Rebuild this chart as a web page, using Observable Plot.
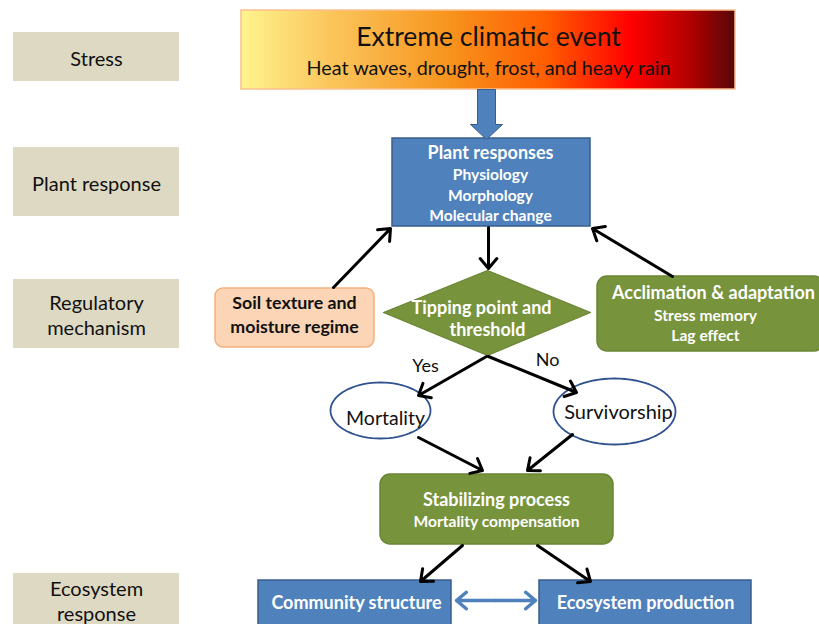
<!DOCTYPE html>
<html><head><meta charset="utf-8">
<script src="https://cdn.jsdelivr.net/npm/d3@7"></script>
<script src="https://cdn.jsdelivr.net/npm/@observablehq/plot@0.6"></script>
<style>body{margin:0;background:#fff}</style>
</head><body><div id="chart"></div>
<script>
// Stage labels (left column)
const stageLabels = ["Stress", "Plant response", "Regulatory\nmechanism", "Ecosystem\nresponse"];
const stageTop = [32, 147, 279, 573];
const stageBottom = [81, 216, 348, 632];
const stageTextY = [57, 182, 313.5, 599.5];

// Boxes
const boxNames = ["event", "plant", "soil", "acclim", "stab", "community", "production"];
const boxX1 = [241, 392, 215, 597, 380, 258, 539];
const boxX2 = [735, 590, 374, 824, 613, 451, 751];
const boxY1 = [10, 138, 288, 276, 474, 580, 580];
const boxY2 = [89, 226, 347, 351, 544, 632, 632];

// Texts
const textLabels = ["Extreme climatic event", "Heat waves, drought, frost, and heavy rain",
  "Plant responses", "Physiology", "Morphology", "Molecular change",
  "Tipping point and", "threshold", "Soil texture and", "moisture regime",
  "Acclimation & adaptation", "Stress memory", "Lag effect",
  "Yes", "No", "Mortality", "Survivorship",
  "Stabilizing process", "Mortality compensation",
  "Community structure", "Ecosystem production"];
const textX = [488, 488, 490, 490, 490, 490, 481, 487, 294, 294, 713, 705, 705, 425, 547, 385, 618, 496, 496, 356, 645];
const textY = [37, 68, 153, 174, 195, 215, 308, 330, 303, 327, 293, 315, 335, 366, 360, 418, 412, 500, 521, 603, 603];

// Arrows
const arrowX1 = [488, 333, 672, 486, 488, 418, 572, 462, 537];
const arrowY1 = [227, 287, 276, 356, 356, 437, 434, 545, 545];
const arrowX2 = [488, 390, 592, 418, 576, 482, 527, 420, 590];
const arrowY2 = [268, 228, 228, 395, 392, 470, 470, 581, 581];

// Ellipses (Mortality, Survivorship)
const ellCx = [380, 614], ellCy = [410, 411], ellRx = [50, 61], ellRy = [28, 33];

// Diamond and block arrow outlines
const diamondX = [383, 487, 590, 487, 383];
const diamondY = [312, 270, 312, 355, 312];
const blockX = [477, 495, 495, 502, 486, 470, 477, 477];
const blockY = [89, 89, 124, 124, 139, 124, 124, 89];

const blue = "#4f81bd", blueDark = "#385d8a", green = "#77933c", greenDark = "#6b8535";
const boxFill = ["url(#evtgrad)", blue, "#fbd5b5", green, green, blue, blue];
const boxStroke = ["#f9c08f", blueDark, "#f3b07e", greenDark, greenDark, blueDark, blueDark];
const boxR = [0, 0, 8, 10, 10, 0, 0];

const boxes = boxNames.map((n, i) => ({n, x1: boxX1[i], x2: boxX2[i], y1: boxY1[i], y2: boxY2[i], fill: boxFill[i], stroke: boxStroke[i], r: boxR[i]}));
const stages = stageLabels.map((t, i) => ({t, y1: stageTop[i], y2: stageBottom[i], y: stageTextY[i]}));
const texts = textLabels.map((t, i) => ({t, x: textX[i], y: textY[i]}));
const arrows = arrowX1.map((x, i) => ({x1: x, y1: arrowY1[i], x2: arrowX2[i], y2: arrowY2[i]}));
const ellipsePts = ellCx.flatMap((cx, k) => d3.range(0, 73).map(j => {
  const a = j / 72 * 2 * Math.PI;
  return {k, x: cx + ellRx[k] * Math.cos(a), y: ellCy[k] + ellRy[k] * Math.sin(a)};
}));
const diamond = diamondX.map((x, i) => ({x, y: diamondY[i]}));
const block = blockX.map((x, i) => ({x, y: blockY[i]}));

const styleOf = {
  "Extreme climatic event": {size: 26.5, w: "normal", c: "#111"},
  "Heat waves, drought, frost, and heavy rain": {size: 19.8, w: "normal", c: "#111"},
  "Plant responses": {size: 18, w: "bold", c: "#fff"},
  "Tipping point and": {size: 18, w: "bold", c: "#fff"},
  "threshold": {size: 18, w: "bold", c: "#fff"},
  "Soil texture and": {size: 17.8, w: "bold", c: "#111"},
  "moisture regime": {size: 17.8, w: "bold", c: "#111"},
  "Acclimation & adaptation": {size: 18, w: "bold", c: "#fff"},
  "Yes": {size: 18, w: "normal", c: "#111"},
  "No": {size: 18, w: "normal", c: "#111"},
  "Mortality": {size: 19.5, w: "normal", c: "#111"},
  "Survivorship": {size: 20, w: "normal", c: "#111"},
  "Stabilizing process": {size: 18, w: "bold", c: "#fff"},
  "Community structure": {size: 18, w: "bold", c: "#fff"},
  "Ecosystem production": {size: 18, w: "bold", c: "#fff"}
};
const def = {size: 15.6, w: "bold", c: "#fff"};
const groups = d3.groups(texts, d => JSON.stringify(styleOf[d.t] || def));
const textMarks = groups.map(([k, arr]) => {
  const s = JSON.parse(k);
  return Plot.text(arr, {x: "x", y: "y", text: "t", fontSize: s.size, fontWeight: s.w, fill: s.c});
});

const plot = Plot.plot({
  width: 819, height: 624, margin: 0,
  x: {domain: [0, 819], axis: null},
  y: {domain: [0, 624], reverse: true, axis: null},
  style: {fontFamily: "Lato, 'Open Sans', sans-serif", background: "#fff", overflow: "hidden"},
  marks: [
    Plot.rect(stages, {x1: 13, x2: 179, y1: "y1", y2: "y2", fill: "#ddd9c3"}),
    Plot.text(stages, {x: 96, y: "y", text: "t", fontSize: 20, fill: "#111", lineHeight: 1.25}),
    ...boxes.map(b => Plot.rect([b], {x1: "x1", x2: "x2", y1: "y1", y2: "y2", fill: b.fill, stroke: b.stroke, strokeWidth: 1.5, rx: b.r})),
    Plot.line(block, {x: "x", y: "y", fill: blue, stroke: blueDark, strokeWidth: 1}),
    Plot.line(diamond, {x: "x", y: "y", fill: green, stroke: greenDark, strokeWidth: 1.2}),
    Plot.line(ellipsePts, {x: "x", y: "y", z: "k", fill: "#fff", stroke: "#2f528f", strokeWidth: 1.8}),
    Plot.arrow(arrows, {x1: "x1", y1: "y1", x2: "x2", y2: "y2", stroke: "#000", strokeWidth: 3, headLength: 6.5, headAngle: 80}),
    Plot.arrow([{x1: 495, x2: 456}, {x1: 495, x2: 535}], {x1: "x1", x2: "x2", y1: 600, y2: 600, stroke: blue, strokeWidth: 3.5, headLength: 5.5, headAngle: 80}),
    ...textMarks
  ]
});

const defs = d3.select(plot).insert("defs", ":first-child");
const g = defs.append("linearGradient").attr("id", "evtgrad").attr("x1", "0").attr("x2", "1").attr("y1", "0").attr("y2", "0");
[["0%", "#fff48e"], ["18%", "#fbc65c"], ["42%", "#f7941e"], ["62%", "#ff5c00"], ["79%", "#ff0000"], ["91%", "#b10000"], ["100%", "#560808"]]
  .forEach(([o, c]) => g.append("stop").attr("offset", o).attr("stop-color", c));
document.getElementById("chart").append(plot);
</script>
</body></html>
